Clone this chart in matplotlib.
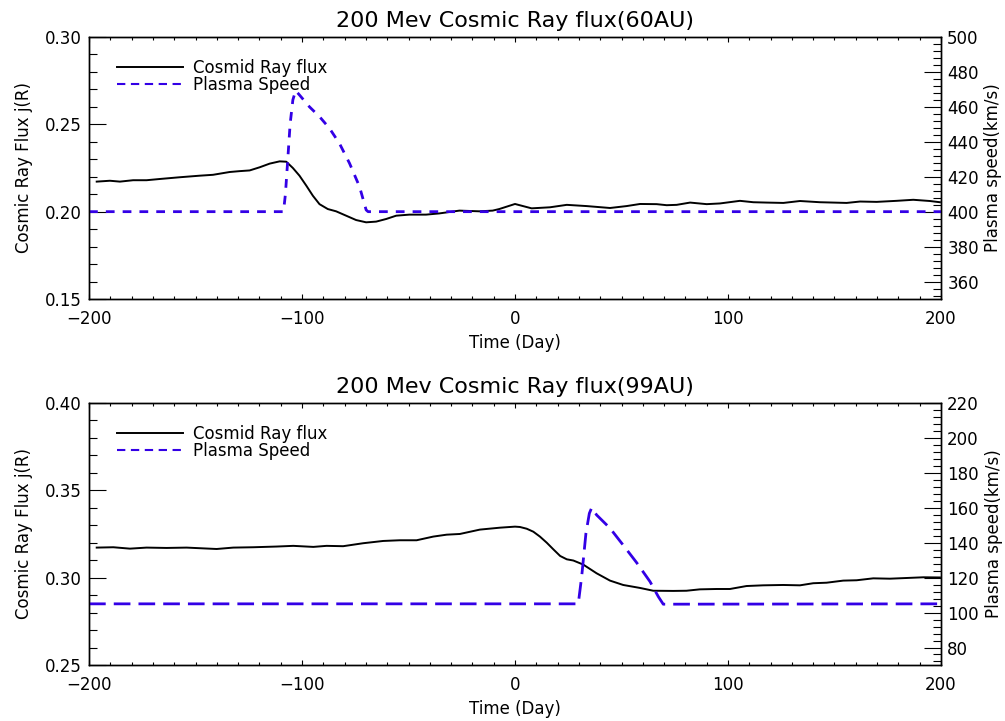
import numpy as np
import matplotlib
matplotlib.use('Agg')
import matplotlib.pyplot as plt
from matplotlib.ticker import MultipleLocator
from matplotlib.lines import Line2D

# ---- 60 AU : cosmic ray flux ----
day_flux60 = [-196.4, -190.2, -185.5, -179.3, -173, -166.8, -157.4, -148, -141.8, -134,
              -129.3, -124.6, -119.9, -115.2, -110.5, -107.4, -104.3, -101.2, -98, -94.9,
              -91.8, -87.9, -84, -79.3, -74.6, -69.9, -65.2, -60.5, -55.8, -49.6,
              -41.8, -35.5, -26.1, -16.8, -10.5, -7.4, 0, 7.8, 16.4, 24.3,
              33.6, 44.6, 52.4, 58.7, 66.5, 71.2, 75.9, 82.2, 90, 96.2,
              105.6, 111.9, 118.2, 126, 133.8, 143.2, 149.5, 155.7, 162, 169.8,
              179.2, 187, 194.8, 199.5]
flux60 = [0.2172, 0.2177, 0.2172, 0.2180, 0.2180, 0.2187, 0.2197, 0.2206, 0.2211, 0.2227,
          0.2232, 0.2236, 0.2254, 0.2275, 0.2288, 0.2286, 0.2250, 0.2206, 0.2149, 0.2091,
          0.2043, 0.2015, 0.2002, 0.1977, 0.1952, 0.1939, 0.1943, 0.1958, 0.1977, 0.1983,
          0.1983, 0.1990, 0.2006, 0.2002, 0.2006, 0.2015, 0.2044, 0.2019, 0.2025, 0.2039,
          0.2032, 0.2021, 0.2032, 0.2044, 0.2043, 0.2037, 0.2039, 0.2052, 0.2043, 0.2047,
          0.2062, 0.2054, 0.2052, 0.2050, 0.2061, 0.2054, 0.2052, 0.2050, 0.2058, 0.2056,
          0.2062, 0.2068, 0.2061, 0.2054]

# ---- 60 AU : plasma speed ----
day_speed60 = [-200, -108.7, -107.8, -106.8, -105.6, -104.3, -103, -101.2, -96.5, -91.8,
               -87.1, -82.4, -77.7, -73, -69.9, -69, 200]
speed60 = [400, 400, 410, 428, 450, 464, 469.3, 466.8, 460, 454.4,
           447.7, 439, 427.7, 414.3, 401, 400, 400]

# ---- 99 AU : cosmic ray flux ----
day_flux99 = [-196.4, -188.6, -180.8, -173, -163.6, -154.2, -140.1, -132.3, -122.9, -112,
              -104.1, -94.7, -88.5, -80.7, -71.3, -61.9, -54.1, -46.2, -38.4, -32.1,
              -25.9, -16.5, -7.1, 0, 2.3, 5.5, 8.6, 11.7, 14.9, 18,
              21.2, 24.3, 27.4, 32, 38.3,
              44.6, 50.8, 58.7, 64.9, 74.3, 80.5, 86.8, 94.6, 100.9, 108.7,
              116.5, 125.9, 133.8, 140, 146.3, 154.1, 160.4, 168.2, 176, 183.9,
              191.7, 199.5]
flux99 = [0.3172, 0.3174, 0.3166, 0.3172, 0.3170, 0.3172, 0.3164, 0.3172, 0.3174, 0.3178,
          0.3182, 0.3176, 0.3182, 0.3180, 0.3197, 0.3210, 0.3214, 0.3214, 0.3235, 0.3246,
          0.3250, 0.3275, 0.3286, 0.3292, 0.3290, 0.3280, 0.3263, 0.3235, 0.3200, 0.3162,
          0.3124, 0.3105, 0.3098, 0.3075, 0.3025,
          0.2983, 0.2958, 0.2941, 0.2925, 0.2924, 0.2925, 0.2933, 0.2935, 0.2935, 0.2952,
          0.2956, 0.2958, 0.2956, 0.2968, 0.2971, 0.2983, 0.2985, 0.2996, 0.2994, 0.2998,
          0.3002, 0.3001]

# ---- 99 AU : plasma speed ----
day_speed99 = [-200, 29.7, 31.3, 33.3, 34.9, 36, 38.3, 44.6, 50.8, 57.1,
               63.4, 67.3, 69.6, 200]
speed99 = [105, 105, 120.6, 145.4, 156.8, 160, 155.9, 148.3, 138.6, 128.6,
           117.7, 109.1, 104.8, 105]

BLUE = '#3300e6'

panels = [
    dict(title='200 Mev Cosmic Ray flux(60AU)', day_f=day_flux60, flux=flux60,
         day_s=day_speed60, speed=speed60, flim=(0.15, 0.30), slim=(350, 500),
         dash=(6.3, 5.8), bottom=0.5853),
    dict(title='200 Mev Cosmic Ray flux(99AU)', day_f=day_flux99, flux=flux99,
         day_s=day_speed99, speed=speed99, flim=(0.25, 0.40), slim=(70, 220),
         dash=(12.0, 5.8), bottom=0.0777),
]

plt.rcParams['font.family'] = 'DejaVu Sans'
plt.rcParams['lines.scale_dashes'] = False
fig = plt.figure(figsize=(10.05, 7.21), dpi=100)

for p in panels:
    ax = fig.add_axes([0.0886, p['bottom'], 0.8477, 0.3634])
    ax2 = ax.twinx()

    ax.plot(p['day_f'], p['flux'], color='black', lw=1.4)
    ax2.plot(p['day_s'], p['speed'], color=BLUE, lw=2.0,
             linestyle=(0, p['dash']), dash_capstyle='butt')

    ax.set_xlim(-200, 200)
    ax.set_ylim(*p['flim'])
    ax2.set_ylim(*p['slim'])

    ax.xaxis.set_major_locator(MultipleLocator(100))
    ax.xaxis.set_minor_locator(MultipleLocator(10))
    ax.yaxis.set_major_locator(MultipleLocator(0.05))
    ax.yaxis.set_minor_locator(MultipleLocator(0.01))
    ax2.yaxis.set_major_locator(MultipleLocator(20))
    ax2.yaxis.set_minor_locator(MultipleLocator(4))

    ax.tick_params(axis='x', which='both', direction='in', top=True, bottom=True,
                   labelsize=12, pad=8, width=0.8)
    ax.tick_params(axis='x', which='major', length=3.8)
    ax.tick_params(axis='x', which='minor', length=1.9)
    ax.tick_params(axis='y', which='both', direction='in', left=True, right=False,
                   labelsize=12, pad=5, width=0.8)
    ax.tick_params(axis='y', which='major', length=12.3)
    ax.tick_params(axis='y', which='minor', length=6.1)
    ax2.tick_params(axis='y', which='both', direction='in', right=True,
                    labelsize=12, pad=4.5, width=0.8)
    ax2.tick_params(axis='y', which='major', length=12.3)
    ax2.tick_params(axis='y', which='minor', length=6.1)
    ax.yaxis.set_major_formatter(plt.FormatStrFormatter('%.2f'))

    for a in (ax, ax2):
        for s in a.spines.values():
            s.set_linewidth(1.0)

    ax.set_title(p['title'], fontsize=16, pad=7)
    ax.set_xlabel('Time (Day)', fontsize=12, labelpad=4)
    ax.set_ylabel('Cosmic Ray Flux j(R)', fontsize=12, labelpad=9)
    ax2.set_ylabel('Plasma speed(km/s)', fontsize=12, labelpad=4)

    handles = [Line2D([], [], color='black', lw=1.4),
               Line2D([], [], color=BLUE, lw=1.5, linestyle=(0, (6.0, 4.0)))]
    ax2.legend(handles, ['Cosmid Ray flux', 'Plasma Speed'], loc='upper left',
               bbox_to_anchor=(0.033, 0.915), frameon=False, fontsize=12,
               handlelength=3.96, handletextpad=0.6, labelspacing=-0.1,
               borderpad=0, borderaxespad=0)

fig.savefig('out.png', dpi=100)
